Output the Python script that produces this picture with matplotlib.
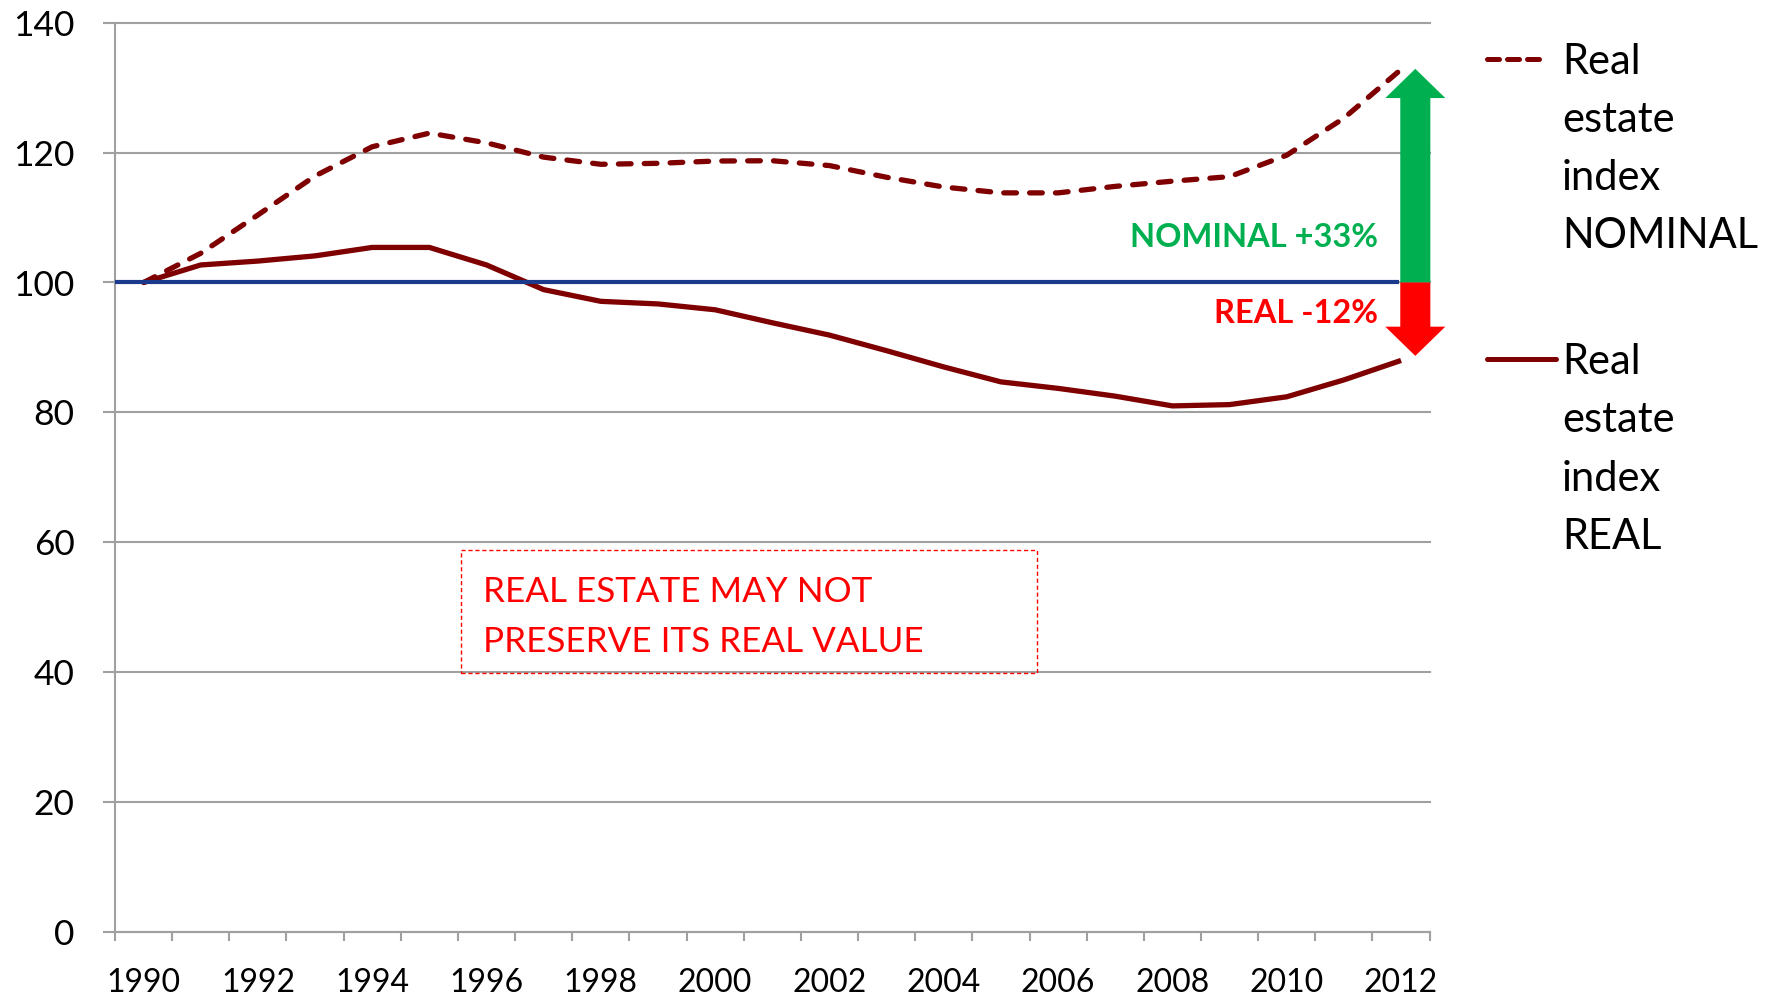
import numpy as np
import matplotlib
matplotlib.use("Agg")
import matplotlib.pyplot as plt
from matplotlib.patches import Polygon, Rectangle
from matplotlib.lines import Line2D

plt.rcParams['font.family'] = ['Lato', 'DejaVu Sans']

years = list(range(1990, 2013))
nominal = [100, 104.5, 110.4, 116.4, 120.9, 123.0, 121.5, 119.3, 118.2, 118.35, 118.7, 118.75,
           118.0, 116.2, 114.7, 113.8, 113.8, 114.8, 115.6, 116.3, 119.6, 125.3, 132.8]
real = [100, 102.7, 103.3, 104.1, 105.4, 105.4, 102.7, 98.9, 97.1, 96.7, 95.8, 93.8,
        91.9, 89.5, 87.0, 84.7, 83.7, 82.5, 81.0, 81.2, 82.4, 85.0, 88.0]
baseline_value = 100
nominal_label = "Real\nestate\nindex\nNOMINAL"
real_label = "Real\nestate\nindex\nREAL"
yticks = [0, 20, 40, 60, 80, 100, 120, 140]
xlabel_years = [y for y in years if y % 2 == 0]

W, H = 1772, 996
fig = plt.figure(figsize=(W / 100, H / 100), dpi=100)
L, R, T, B = 115, 1429.6, 22.7, 932
ax = fig.add_axes([L / W, 1 - B / H, (R - L) / W, (B - T) / H])

maroon = '#7F0000'
grid_c = '#A0A0A0'
x = np.arange(len(years))

ax.plot(x, nominal, color=maroon, lw=3.8, dashes=(2.4, 2.5), dash_capstyle='round',
        solid_capstyle='round', zorder=3)
ax.plot(x, real, color=maroon, lw=3.8, solid_capstyle='butt', zorder=3)
ax.plot([-0.5, 21.97], [baseline_value, baseline_value], color='#1B3A8C', lw=3.0,
        zorder=4, solid_capstyle='butt')

ax.set_xlim(-0.5, len(years) - 0.5)
ax.set_ylim(0, 140)

# y axis
ax.set_yticks(yticks)
ax.set_yticklabels([str(v) for v in yticks], fontsize=25.5)
ax.tick_params(axis='y', length=9, width=1.5, color=grid_c, pad=20)
ax.yaxis.grid(True, color=grid_c, lw=1.5)
for gl in ax.yaxis.get_gridlines():
    gl.set_clip_on(False)
ax.set_axisbelow(True)

# x axis: ticks at category boundaries, labels at centres
ax.set_xticks(np.arange(-0.5, len(years) + 0.5, 1.0))
ax.set_xticklabels([])
ax.tick_params(axis='x', which='major', length=6.5, width=1.5, color=grid_c)
ax.set_xticks([years.index(y) for y in xlabel_years], minor=True)
ax.set_xticklabels([str(y) for y in xlabel_years], minor=True, fontsize=23)
ax.tick_params(axis='x', which='minor', length=0, pad=26)

for s in ['top', 'right']:
    ax.spines[s].set_visible(False)
for s in ['left', 'bottom']:
    ax.spines[s].set_color(grid_c)
    ax.spines[s].set_linewidth(1.5)

# arrows
xc, sh, hh = 22.25, 0.263, 0.525
green = Polygon([(xc - sh, 100), (xc - sh, 128.4), (xc - hh, 128.4), (xc, 132.9),
                 (xc + hh, 128.4), (xc + sh, 128.4), (xc + sh, 100)],
                closed=True, facecolor='#00B050', edgecolor='none', clip_on=False, zorder=5)
red = Polygon([(xc - sh, 100), (xc - sh, 93.2), (xc - hh, 93.2), (xc, 88.7),
               (xc + hh, 93.2), (xc + sh, 93.2), (xc + sh, 100)],
              closed=True, facecolor='#FF0000', edgecolor='none', clip_on=False, zorder=5)
ax.add_patch(green)
ax.add_patch(red)
ax.text(21.6, 106.9, "NOMINAL +33%", color='#00B050', fontsize=23.5, fontweight='bold',
        ha='right', va='center')
ax.text(21.6, 95.2, "REAL -12%", color='#FF0000', fontsize=23.5, fontweight='bold',
        ha='right', va='center')

# text box
ax.add_patch(Rectangle((5.56, 39.9), 15.63 - 5.56, 58.8 - 39.9, fill=False,
                       edgecolor='#FF0000', lw=1.0, ls=(0, (3, 2)), zorder=2))
box_lines = ["REAL ESTATE MAY NOT", "PRESERVE ITS REAL VALUE"]
for i, t in enumerate(box_lines):
    ax.text(5.94, [52.4, 44.6][i], t, color='#FF0000', fontsize=25.2, ha='left', va='center')

# legend (manual)
def legend_entry(label, y_sym, x0, x1, ls_kw, baseline_y):
    fig.add_artist(Line2D([x0 / W, x1 / W], [1 - y_sym / H, 1 - y_sym / H],
                          color=maroon, lw=3.6, transform=fig.transFigure, **ls_kw))
    for i, t in enumerate(label.split('\n')):
        fig.text(1562 / W, 1 - (baseline_y + i * 58.3) / H, t, fontsize=30,
                 ha='left', va='baseline', color='black')

legend_entry(nominal_label, 58.8, 1487, 1546, dict(dashes=(2.4, 1.6), dash_capstyle='round',
                                                    solid_capstyle='round'), 73.5)
legend_entry(real_label, 359.4, 1487, 1556, dict(solid_capstyle='round'), 374.0)

fig.savefig('out.png', dpi=100)
